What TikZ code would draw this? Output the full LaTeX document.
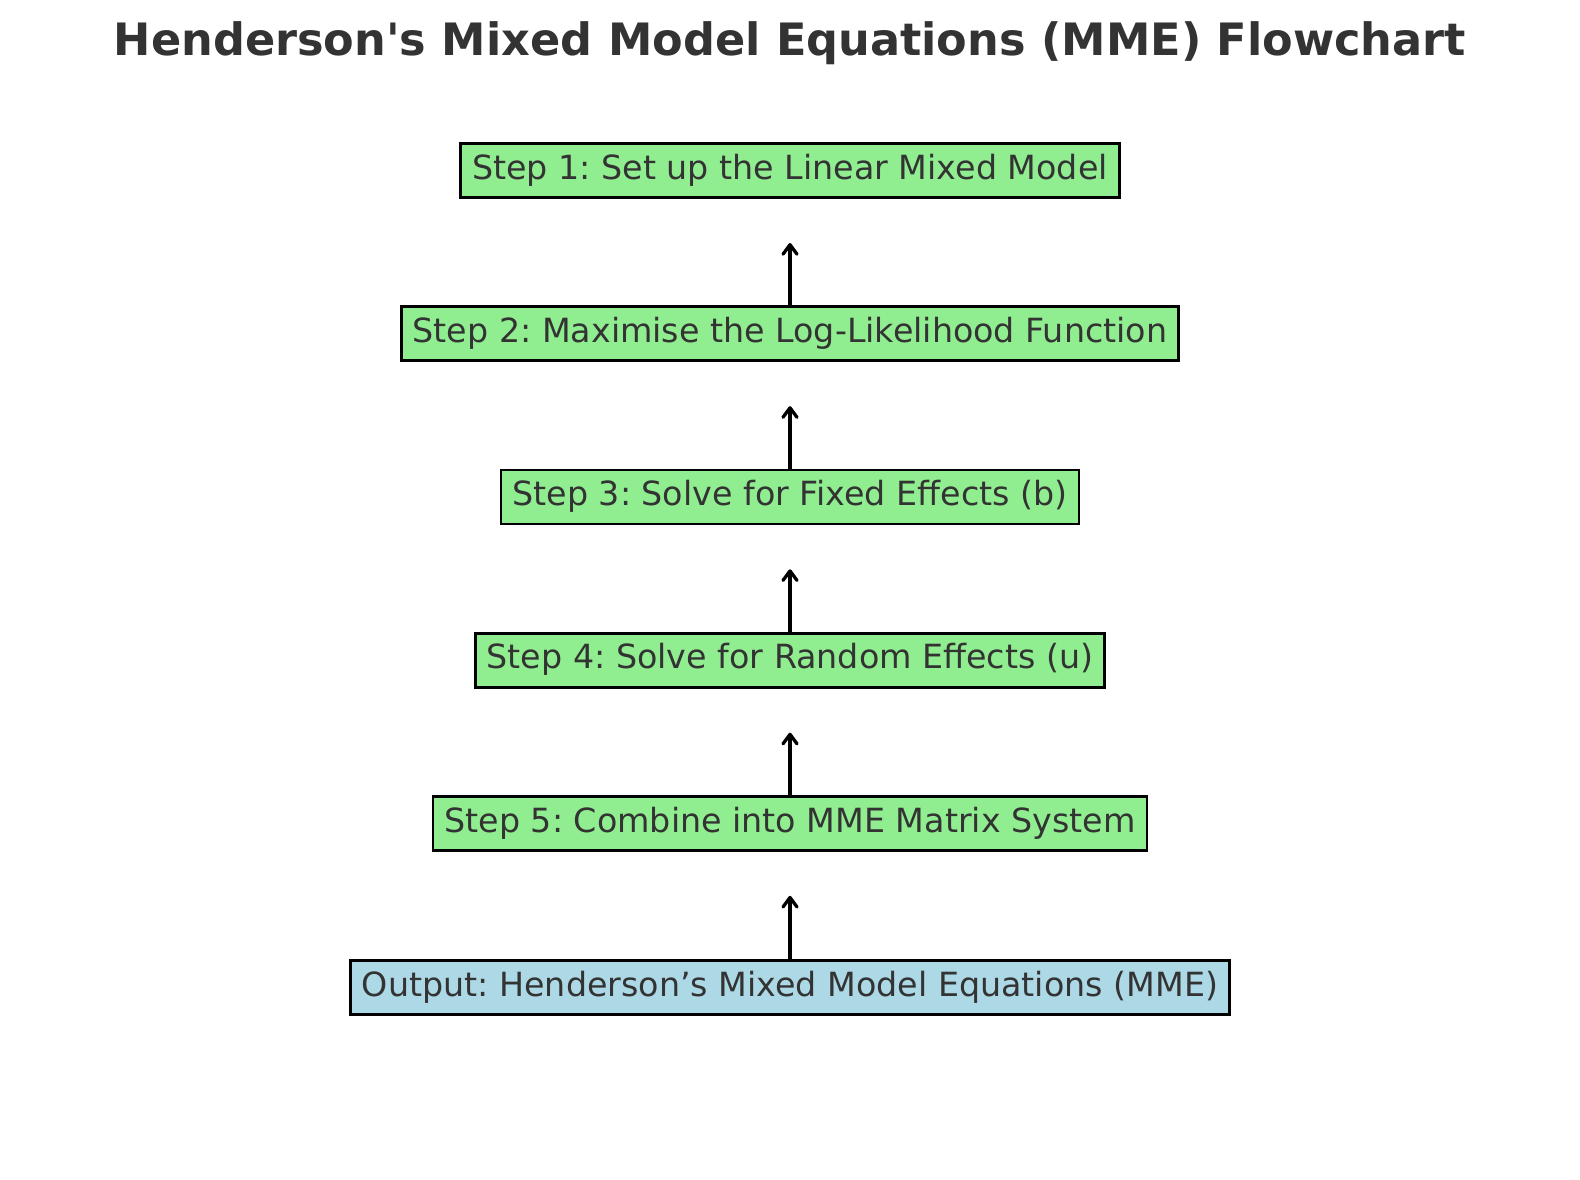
\documentclass[tikz,border=0pt]{standalone}
\usepackage{fontspec}
\setmainfont{DejaVu Sans}
\usetikzlibrary{arrows.meta}
\frenchspacing
\definecolor{txt}{HTML}{333333}
\definecolor{stepgreen}{HTML}{90EE90}
\definecolor{outblue}{HTML}{ADD8E6}
\tikzset{
  stepbox/.style={draw=black, line width=2.7pt, fill=stepgreen, text=txt,
    font=\fontsize{33.3}{40}\selectfont\frenchspacing, text height=25pt, text depth=8pt,
    inner xsep=11.5pt, inner ysep=10.5pt},
  outbox/.style={stepbox, fill=outblue},
  flow/.style={line width=3.3pt, line cap=round, -{Straight Barb[length=9.5pt,width=14pt,line cap=round,line join=round]}},
}
\begin{document}
\begin{tikzpicture}[x=1pt,y=-1pt]
\useasboundingbox (0,0) rectangle (1580,1180);
\node[anchor=base, text=txt, font=\fontsize{44.6}{53}\selectfont\bfseries] (title) at (790,55.5) {Henderson\textquotesingle s Mixed Model Equations (MME) Flowchart};
\node[stepbox] (s1) at (790,170.7) {Step 1: Set up the Linear Mixed Model};
\node[stepbox] (s2) at (790,333.8) {Step 2: Maximise the Log-Likelihood Function};
\node[stepbox] (s3) at (790,496.9) {Step 3: Solve for Fixed Effects (b)};
\node[stepbox] (s4) at (790,660.3) {Step 4: Solve for Random Effects (u)};
\node[stepbox] (s5) at (790,823.5) {Step 5: Combine into MME Matrix System};
\node[outbox] (out) at (790,987.5) {Output: Henderson’s Mixed Model Equations (MME)};
\foreach \a/\b in {s2/s1,s3/s2,s4/s3,s5/s4,out/s5}{
  \coordinate (tip-\a) at ([yshift=-44pt]\b.south);
  \draw[flow] (\a.north) -- (tip-\a);
}
\end{tikzpicture}
\end{document}
